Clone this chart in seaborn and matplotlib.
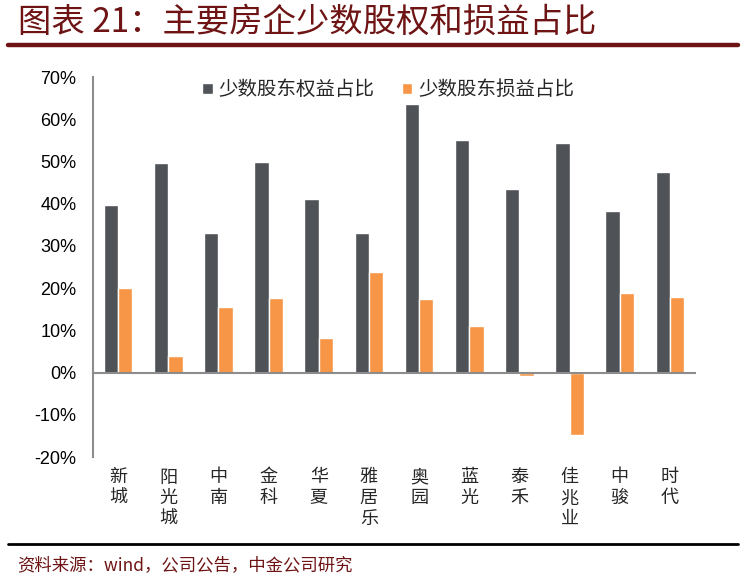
import matplotlib
matplotlib.use("Agg")
import matplotlib.pyplot as plt
import matplotlib.transforms as mtransforms
from matplotlib.lines import Line2D
from matplotlib.ticker import PercentFormatter
import numpy as np
import pandas as pd
import seaborn as sns

companies = ["新城", "阳光城", "中南", "金科", "华夏", "雅居乐",
             "奥园", "蓝光", "泰禾", "佳兆业", "中骏", "时代"]
series = ["少数股东权益占比", "少数股东损益占比"]
equity_share = [0.397, 0.497, 0.330, 0.498, 0.411, 0.330,
                0.637, 0.550, 0.434, 0.544, 0.382, 0.476]
profit_share = [0.200, 0.040, 0.155, 0.177, 0.082, 0.237,
                0.175, 0.110, -0.007, -0.149, 0.189, 0.178]

df = pd.DataFrame({
    "company": companies * 2,
    "series": [series[0]] * len(companies) + [series[1]] * len(companies),
    "value": equity_share + profit_share,
})

sns.set_style("white")
plt.rcParams["font.family"] = ["Liberation Sans", "Noto Sans CJK SC", "DejaVu Sans"]
plt.rcParams["axes.unicode_minus"] = False

dark = "#4f5257"
orange = "#f79646"
gray = "#8c8c8c"
red = "#6e1414"

W, H = 746, 588
fig = plt.figure(figsize=(W / 100, H / 100), dpi=100)
ax = fig.add_axes([93 / W, (H - 457) / H, (695 - 93) / W, (457 - 77) / H])

sns.barplot(data=df, x="company", y="value", hue="series", order=companies,
            hue_order=series, palette=[dark, orange], width=0.57,
            saturation=1, ax=ax)

ax.set_ylim(-0.2, 0.7)
ax.set_xlim(-0.5, len(companies) - 0.5)
ax.set_yticks(np.arange(-0.2, 0.71, 0.1))
ax.yaxis.set_major_formatter(PercentFormatter(1, decimals=0))
ax.set_xlabel("")
ax.set_ylabel("")

for s in ["top", "right"]:
    ax.spines[s].set_visible(False)
ax.spines["bottom"].set_position(("data", 0))
for s in ["left", "bottom"]:
    ax.spines[s].set_color(gray)
    ax.spines[s].set_linewidth(1.5)

# ticks between categories on the zero line, labels drawn separately
ax.set_xticks(np.arange(0.5, len(companies) - 0.4, 1))
ax.set_xticklabels([])
ax.tick_params(axis="x", direction="in", length=5, width=1.5, color=gray)
ax.tick_params(axis="y", direction="in", length=5, width=1.5, color=gray,
               labelsize=13, pad=12, labelcolor="black")

trans = mtransforms.blended_transform_factory(ax.transData, ax.transAxes)
for i, name in enumerate(companies):
    ax.text(i, -0.03, "\n".join(name), transform=trans, ha="center", va="top",
            fontsize=13, linespacing=1.2, family="Noto Sans CJK SC")

handles, labels = ax.get_legend_handles_labels()
ax.legend(handles, labels, loc="upper center", bbox_to_anchor=(0.49, 1.04),
          ncol=2, frameon=False, handlelength=0.55, handleheight=0.55,
          handletextpad=0.3, columnspacing=1.4,
          prop={"family": "Noto Sans CJK SC", "size": 14})

# title, rules and source note
fig.text(18 / W, 1 - 22 / H, "图表 21：主要房企少数股权和损益占比",
         fontsize=24, color=red, style="italic", va="center",
         family=["Noto Sans CJK SC", "DejaVu Sans"])
fig.add_artist(Line2D([8 / W, 738 / W], [1 - 45 / H] * 2, color=red, lw=3.2))
fig.add_artist(Line2D([8 / W, 738 / W], [1 - 544 / H] * 2, color="black", lw=2))
fig.text(17 / W, 1 - 565 / H, "资料来源：wind，公司公告，中金公司研究",
         fontsize=12.5, color=red, style="italic", va="center",
         family=["Noto Sans CJK SC", "DejaVu Sans"])

fig.savefig("out.png", dpi=100)
